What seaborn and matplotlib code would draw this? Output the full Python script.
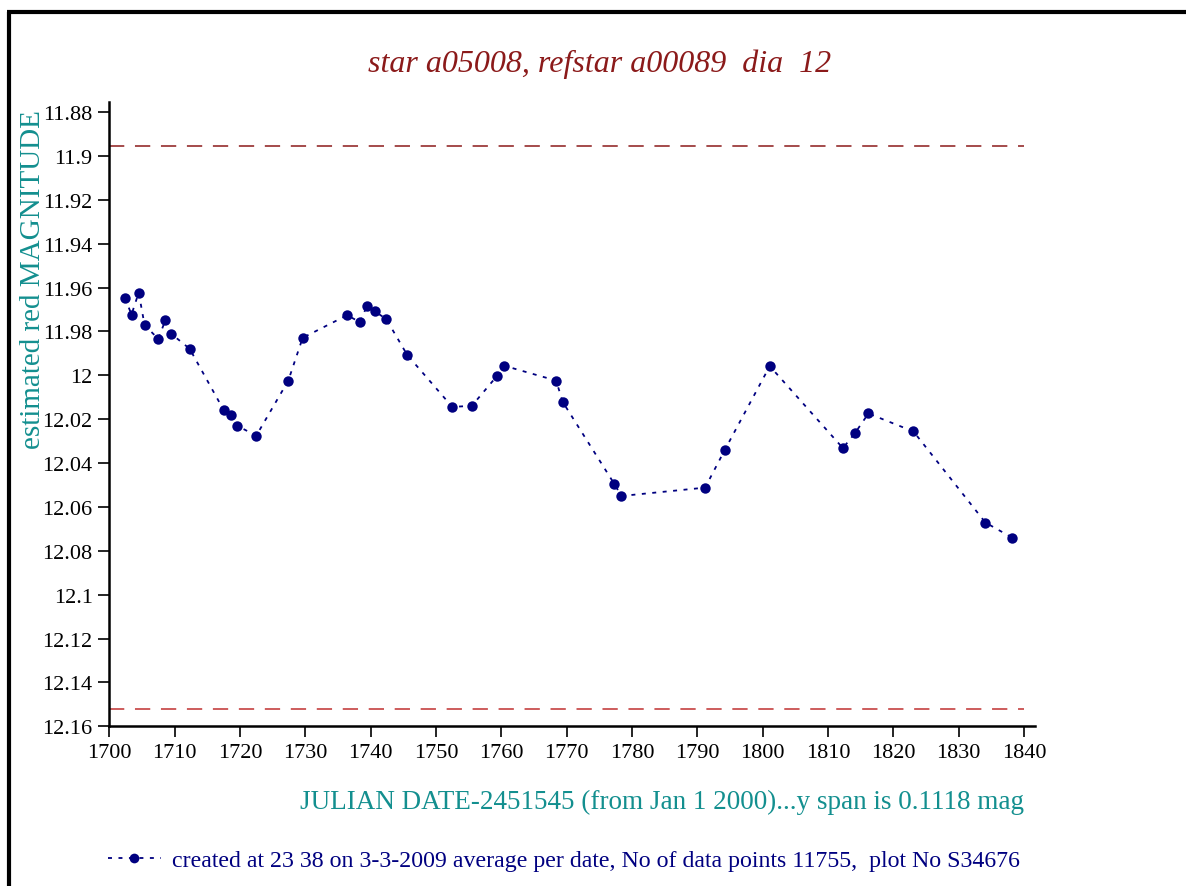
import matplotlib
matplotlib.use("Agg")
import matplotlib.pyplot as plt
from matplotlib.lines import Line2D
import seaborn as sns
import pandas as pd

# ---- data ----
julian_day = [1702.4, 1703.4, 1704.5, 1705.4, 1707.5, 1708.6, 1709.5, 1712.3,
              1717.5, 1718.6, 1719.5, 1722.5, 1727.4, 1729.6, 1736.4, 1738.4,
              1739.4, 1740.6, 1742.4, 1745.6, 1752.5, 1755.5, 1759.4, 1760.4,
              1768.4, 1769.4, 1777.3, 1778.4, 1791.2, 1794.2, 1801.1, 1812.3,
              1814.2, 1816.2, 1823.1, 1834.1, 1838.2]
magnitude = [11.9647, 11.9723, 11.9623, 11.9771, 11.9834, 11.9747, 11.9811, 11.9879,
             12.0158, 12.0180, 12.0229, 12.0275, 12.0024, 11.9829, 11.9726, 11.9758,
             11.9685, 11.9707, 11.9744, 11.9907, 12.0144, 12.0139, 12.0001, 11.9956,
             12.0024, 12.0121, 12.0495, 12.0550, 12.0512, 12.0341, 11.9958, 12.0332,
             12.0261, 12.0174, 12.0256, 12.0671, 12.0740]
upper_ref = 11.8955
lower_ref = 12.152
ref_x_range = [1700, 1840]
x_ticks = [1700, 1710, 1720, 1730, 1740, 1750, 1760, 1770, 1780, 1790, 1800,
           1810, 1820, 1830, 1840]
y_ticks = [11.88, 11.9, 11.92, 11.94, 11.96, 11.98, 12.0, 12.02, 12.04, 12.06,
           12.08, 12.1, 12.12, 12.14, 12.16]
y_tick_labels = ["11.88", "11.9", "11.92", "11.94", "11.96", "11.98", "12", "12.02",
                 "12.04", "12.06", "12.08", "12.1", "12.12", "12.14", "12.16"]

title_text = "star a05008, refstar a00089  dia  12"
xlabel_text = "JULIAN DATE-2451545 (from Jan 1 2000)...y span is 0.1118 mag"
ylabel_text = "estimated red MAGNITUDE"
legend_text = ("created at 23 38 on 3-3-2009 average per date, No of data points 11755,  "
               "plot No S34676")

df = pd.DataFrame({"jd": julian_day, "mag": magnitude})

sns.set_theme(style="ticks")
plt.rcParams["font.family"] = ["Liberation Serif", "DejaVu Serif"]

W, H = 1186, 887
fig = plt.figure(figsize=(W / 100, H / 100), dpi=100)
fig.patch.set_facecolor("white")
ax = fig.add_axes([109.3 / W, 1 - 727.3 / H, (1035 - 109.3) / W, (727.3 - 103) / H])
ax.set_facecolor("white")

navy = "#000080"
teal = "#138f8f"
darkred = "#8b1a1a"

sns.lineplot(data=df, x="jd", y="mag", ax=ax, estimator=None, sort=False,
             color=navy, linestyle=(0, (2.2, 3.6)), linewidth=1.3,
             marker="o", markersize=7.5, markeredgewidth=0, markerfacecolor=navy,
             legend=False)

ax.hlines(upper_ref, ref_x_range[0], ref_x_range[1], colors="#8b1a1a",
          linestyles=(0, (10, 7)), linewidth=1.1)
ax.hlines(lower_ref, ref_x_range[0], ref_x_range[1], colors="#c03030",
          linestyles=(0, (10, 7)), linewidth=1.1)

ax.set_xlim(1700, 1841.7)
ax.set_ylim(12.16, 11.8754)
ax.set_xticks(x_ticks)
ax.set_xticklabels([str(t) for t in x_ticks])
ax.set_yticks(y_ticks)
ax.set_yticklabels(y_tick_labels)
ax.tick_params(axis="both", direction="out", length=8, width=1.2, colors="black",
               labelsize=16, pad=4)
for s in ["top", "right"]:
    ax.spines[s].set_visible(False)
for s in ["left", "bottom"]:
    ax.spines[s].set_linewidth(1.8)
    ax.spines[s].set_color("black")
ax.grid(False)

ax.set_xlabel(xlabel_text, color=teal, fontsize=19.5)
ax.xaxis.set_label_coords((1024 - 109.3) / (1035 - 109.3), (727.3 - 802) / (727.3 - 103))
ax.xaxis.label.set_ha("right")
ax.xaxis.label.set_va("center")
ax.set_ylabel(ylabel_text, color=teal, fontsize=21)
ax.yaxis.set_label_coords((33 - 109.3) / (1035 - 109.3), (727.3 - 280) / (727.3 - 103))
ax.yaxis.label.set_va("center")

fig.text(600 / W, 1 - 64 / H, title_text, color=darkred, fontsize=23,
         style="italic", ha="center", va="center")

handle = Line2D([], [], color=navy, linestyle=(0, (2.2, 3.6)), linewidth=1.3,
                marker="o", markersize=7, markeredgewidth=0)
fig.legend([handle], [legend_text], loc="center left",
           bbox_to_anchor=(108 / W, 1 - 861 / H), frameon=False,
           prop={"size": 17.2}, labelcolor=navy, handlelength=2.2,
           handletextpad=0.5, borderpad=0, borderaxespad=0)

# figure frame (left and top borders)
fig.add_artist(Line2D([9.3 / W, 9.3 / W], [0, 1 - 12.7 / H], transform=fig.transFigure,
                      color="black", linewidth=3.0, solid_capstyle="butt"))
fig.add_artist(Line2D([7.3 / W, 1], [1 - 12.7 / H, 1 - 12.7 / H], transform=fig.transFigure,
                      color="black", linewidth=3.0, solid_capstyle="butt"))

fig.savefig("out.png", dpi=100, facecolor="white")
